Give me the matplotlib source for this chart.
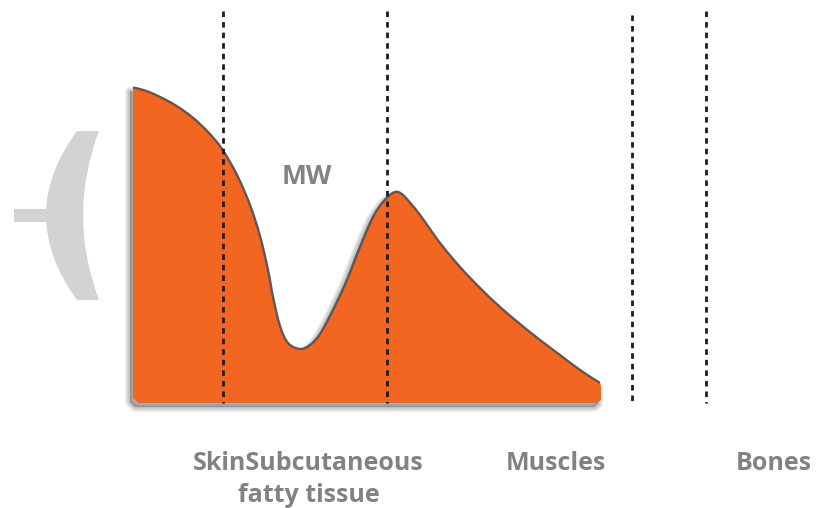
import matplotlib
matplotlib.use('Agg')
import matplotlib.pyplot as plt
from matplotlib.path import Path
from matplotlib.patches import PathPatch, Rectangle

plt.rcParams['font.family'] = ['Open Sans', 'DejaVu Sans']

# values, in image pixels
curve_x = [133, 145, 158, 175, 192, 208, 222, 237, 250, 260, 268, 273, 280, 288, 300,
           310, 320, 333, 347, 360, 373, 383, 392, 398, 405, 420, 440,
           460, 480, 500, 520, 540, 560, 580, 600]
curve_y = [87.5, 90.5, 96, 105, 117, 132, 149, 175, 205, 236, 270, 297, 326, 343, 349,
           345, 334, 310, 280, 247, 217, 202, 193.5, 192, 197, 215, 243,
           267, 288, 307, 324, 340, 355, 370, 383]
base_y = 403
divider_x = [223, 387, 632, 706]
divider_top = [11, 11, 15, 11]
labels = ['SkinSubcutaneous\nfatty tissue', 'Muscles', 'Bones']
label_x = [308.5, 556, 774]


def smooth_path(xs, ys, dx=0, dy=0):
    # bezier through the read points
    pts = [(x + dx, y + dy) for x, y in zip(xs, ys)]
    verts = [pts[0]]
    codes = [Path.MOVETO]
    for i in range(len(pts) - 1):
        p0 = pts[max(i - 1, 0)]
        p1 = pts[i]
        p2 = pts[i + 1]
        p3 = pts[min(i + 2, len(pts) - 1)]
        c1 = (p1[0] + (p2[0] - p0[0]) / 6, p1[1] + (p2[1] - p0[1]) / 6)
        c2 = (p2[0] - (p3[0] - p1[0]) / 6, p2[1] - (p3[1] - p1[1]) / 6)
        verts += [c1, c2, p2]
        codes += [Path.CURVE4] * 3
    return verts, codes


def area_path(dx=0, dy=0):
    verts, codes = smooth_path(curve_x, curve_y, dx, dy)
    tail = [(601, 386), (601, 400), (597, base_y), (138, base_y), (133, 398), (133, 88), (133, 88)]
    verts += [(x + dx, y + dy) for x, y in tail]
    codes += [Path.LINETO] * 6 + [Path.CLOSEPOLY]
    return Path(verts, codes)


def main():
    fig = plt.figure(figsize=(8.16, 5.08), dpi=100)
    ax = fig.add_axes([0, 0, 1, 1])
    ax.set_xlim(0, 816)
    ax.set_ylim(508, 0)
    ax.axis('off')

    # soft shadow, lower left
    for w in [7, 5.5, 4, 2.5, 1]:
        ax.add_patch(PathPatch(area_path(-3, 4), fc='#555555', ec='#555555', alpha=0.09,
                               lw=w, joinstyle='round', zorder=1))

    ax.add_patch(PathPatch(area_path(), fc='#f36621', ec='none', zorder=2))
    line_verts, line_codes = smooth_path(curve_x, curve_y)
    ax.add_patch(PathPatch(Path(line_verts, line_codes), fc='none', ec='#58595b', lw=1.7,
                           capstyle='butt', zorder=3))

    for x, top in zip(divider_x, divider_top):
        ax.plot([x, x], [top, base_y], color='#1c1c1e', lw=2,
                dashes=(2.0, 1.8), dash_capstyle='butt', zorder=4)

    # lens shape on the left
    verts = [(77, 131), (99, 131), (67, 215), (99, 300), (77, 300), (15, 215), (77, 131), (77, 131)]
    codes = [Path.MOVETO, Path.LINETO, Path.CURVE3, Path.CURVE3, Path.LINETO,
             Path.CURVE3, Path.CURVE3, Path.CLOSEPOLY]
    ax.add_patch(PathPatch(Path(verts, codes), fc='#d1d3d4', ec='none', zorder=2))
    ax.add_patch(Rectangle((14, 209), 34, 13, fc='#d1d3d4', ec='none', zorder=2))

    ax.text(306.5, 176, 'MW', color='#808285', fontsize=19, fontweight='bold', ha='center', va='center')
    for x, t in zip(label_x, labels):
        ax.text(x, 451, t, color='#808285', fontsize=18, fontweight='bold', ha='center', va='top',
                linespacing=1.37)

    fig.savefig('out.png', dpi=100)


if __name__ == "__main__":
    main()
